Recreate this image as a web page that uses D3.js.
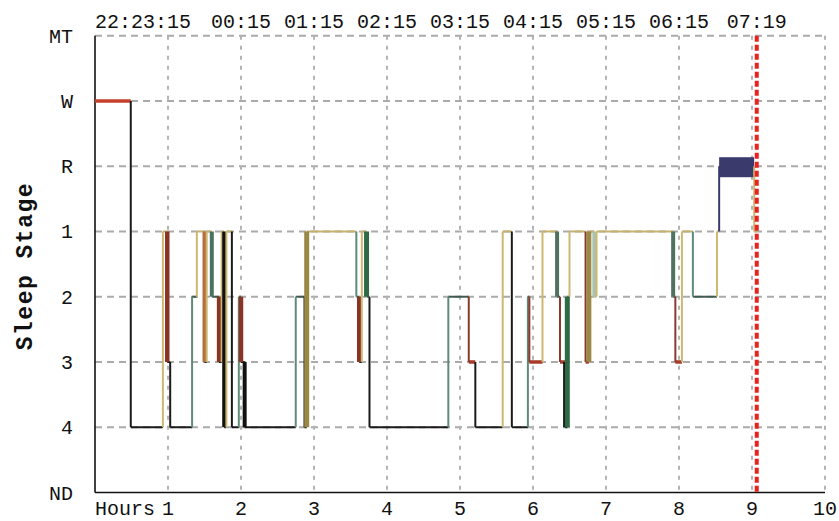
<!DOCTYPE html>
<html>
<head>
<meta charset="utf-8">
<script src="https://cdn.jsdelivr.net/npm/d3@7"></script>
<style>
  body { margin: 0; background: #fff; }
  text { font-family: "Liberation Mono", "DejaVu Sans Mono", monospace; fill: #111; }
</style>
</head>
<body>
<svg id="chart" width="839" height="521"></svg>
<script>
// stage rows, top to bottom
const stages = ["MT", "W", "R", "1", "2", "3", "4", "ND"];
const gridStages = ["MT", "W", "R", "1", "2", "3", "4"];
const hourTicks = [1, 2, 3, 4, 5, 6, 7, 8, 9, 10];
const timeLabels = ["22:23:15", "00:15", "01:15", "02:15", "03:15", "04:15", "05:15", "06:15", "07:19"];
const timeLabelHours = [0, 2, 3, 4, 5, 6, 7, 8, 9.065];
const recordEnd = 9.065;

// hypnogram runs: start hour, stage, scoring kind
const runStart = [0, 0.49, 0.93, 0.99, 1.03, 1.33, 1.395, 1.50, 1.53, 1.60,
  1.70, 1.735, 1.77, 1.80, 1.875, 1.97, 2.00, 2.05, 2.75, 2.87,
  2.90, 3.58, 3.62, 3.655, 3.72, 3.76, 4.84, 5.12, 5.21, 5.585,
  5.71, 5.93, 5.95, 6.13, 6.33, 6.37, 6.44, 6.47, 6.50, 6.72,
  6.765, 6.84, 6.87, 7.92, 7.95, 8.04, 8.19, 8.52, 8.55, 9.03];
const runStage = ["W", "4", "1", "3", "4", "2", "1", "3", "1", "2",
  "3", "1", "4", "1", "4", "2", "3", "4", "2", "4",
  "1", "2", "3", "1", "2", "4", "2", "3", "4", "1",
  "4", "2", "3", "1", "2", "3", "4", "2", "1", "3",
  "1", "2", "1", "2", "3", "1", "2", "1", "R", "1"];
const runKind = ["w", "k", "y", "r", "k", "g", "y", "b", "y", "G",
  "r", "y", "K", "y", "k", "g", "r", "K", "g", "k",
  "o", "g", "r", "y", "dg", "k", "g", "rt", "k", "y",
  "k", "g", "rt", "y", "G", "rt", "K", "dg", "y", "rt",
  "o", "l", "y", "G", "rt", "y", "g", "y", "rem", "y"];

const kindStyle = {
  w:   { color: "#c6402c", v: 2,   h: 3.5, hColor: "#c6402c" },
  k:   { color: "#1b1b1b", v: 2,   h: 2,   hColor: "#1b1b1b" },
  K:   { color: "#111111", v: 4,   h: 2,   hColor: "#1b1b1b" },
  y:   { color: "#cdb872", v: 2,   h: 2,   hColor: "#c6b26c" },
  o:   { color: "#9a8846", v: 5,   h: 2,   hColor: "#c6b26c" },
  r:   { color: "#8a3428", v: 4.5, h: 2,   hColor: "#1b1b1b" },
  rt:  { color: "#8a3a2c", v: 2,   h: 3.5, hColor: "#a83a2a" },
  b:   { color: "#b5703f", v: 4,   h: 2,   hColor: "#1b1b1b" },
  g:   { color: "#5f8b78", v: 2,   h: 2,   hColor: "#3f5a50" },
  G:   { color: "#4d7262", v: 4,   h: 2,   hColor: "#3f5a50" },
  dg:  { color: "#2d6a45", v: 5,   h: 2,   hColor: "#3f5a50" },
  l:   { color: "#a9c2b3", v: 4,   h: 2,   hColor: "#c6b26c" },
  rem: { color: "#3a3a6c", v: 2,   h: 0,   hColor: "#3a3a6c" }
};

const svg = d3.select("#chart");
const x = d3.scaleLinear().domain([0, 10]).range([95, 825]);
const y = d3.scalePoint().domain(stages).range([35.7, 492.5]);

// grid
svg.append("g").selectAll("line")
  .data(gridStages)
  .enter().append("line")
  .attr("x1", x(0)).attr("x2", x(10))
  .attr("y1", d => y(d)).attr("y2", d => y(d))
  .attr("stroke", "#aaa").attr("stroke-width", 2)
  .attr("stroke-dasharray", "7,5");

svg.append("g").selectAll("line")
  .data(hourTicks)
  .enter().append("line")
  .attr("x1", d => x(d)).attr("x2", d => x(d))
  .attr("y1", y("MT")).attr("y2", y("ND"))
  .attr("stroke", "#b4b4b4").attr("stroke-width", 2)
  .attr("stroke-dasharray", "4,6");

// axis lines
svg.append("line")
  .attr("x1", x(0)).attr("x2", x(0)).attr("y1", y("MT")).attr("y2", y("ND"))
  .attr("stroke", "#111").attr("stroke-width", 1.6);
svg.append("line")
  .attr("x1", x(0)).attr("x2", x(10)).attr("y1", y("ND")).attr("y2", y("ND"))
  .attr("stroke", "#111").attr("stroke-width", 1.6);

// stage labels
svg.append("g").selectAll("text")
  .data(stages)
  .enter().append("text")
  .attr("x", 73).attr("y", d => y(d) + 7)
  .attr("text-anchor", "end")
  .style("font-size", "20px")
  .text(d => d);

svg.append("text")
  .attr("transform", `translate(32,${(y("MT") + y("ND")) / 2 + 2}) rotate(-90)`)
  .attr("text-anchor", "middle")
  .style("font-size", "23px").style("font-weight", "bold")
  .style("letter-spacing", "1.5px")
  .text("Sleep Stage");

// hour labels
svg.append("text")
  .attr("x", x(0)).attr("y", 515)
  .style("font-size", "20px")
  .text("Hours");
svg.append("g").selectAll("text")
  .data(hourTicks)
  .enter().append("text")
  .attr("x", d => x(d)).attr("y", 515)
  .attr("text-anchor", "middle")
  .style("font-size", "20px")
  .text(d => d);

// clock labels
svg.append("g").selectAll("text")
  .data(timeLabels)
  .enter().append("text")
  .attr("x", (d, i) => x(timeLabelHours[i]))
  .attr("y", 28)
  .attr("text-anchor", (d, i) => i === 0 ? "start" : "middle")
  .style("font-size", "20px")
  .text(d => d);

// hypnogram
const runs = runStart.map((s, i) => ({
  start: s,
  end: i < runStart.length - 1 ? runStart[i + 1] : recordEnd,
  stage: runStage[i],
  prev: i > 0 ? runStage[i - 1] : null,
  kind: runKind[i]
}));

svg.append("g").selectAll("line")
  .data(runs.filter(d => d.kind !== "rem"))
  .enter().append("line")
  .attr("x1", d => x(d.start)).attr("x2", d => x(d.end))
  .attr("y1", d => y(d.stage)).attr("y2", d => y(d.stage))
  .attr("stroke", d => kindStyle[d.kind].hColor)
  .attr("stroke-width", d => kindStyle[d.kind].h);

svg.append("g").selectAll("rect")
  .data(runs.filter(d => d.kind === "rem"))
  .enter().append("rect")
  .attr("x", d => x(d.start)).attr("width", d => x(d.end) - x(d.start))
  .attr("y", d => y(d.stage) - 9).attr("height", 20)
  .attr("fill", kindStyle.rem.color);

svg.append("g").selectAll("line")
  .data(runs.filter(d => d.prev))
  .enter().append("line")
  .attr("x1", d => x(d.start)).attr("x2", d => x(d.start))
  .attr("y1", d => y(d.prev)).attr("y2", d => y(d.stage))
  .attr("stroke", d => kindStyle[d.kind].color)
  .attr("stroke-width", d => kindStyle[d.kind].v);

// end of record
svg.append("line")
  .attr("x1", x(recordEnd)).attr("x2", x(recordEnd))
  .attr("y1", y("MT")).attr("y2", y("ND"))
  .attr("stroke", "#e8231d").attr("stroke-width", 4)
  .attr("stroke-dasharray", "6,3");
</script>
</body>
</html>
